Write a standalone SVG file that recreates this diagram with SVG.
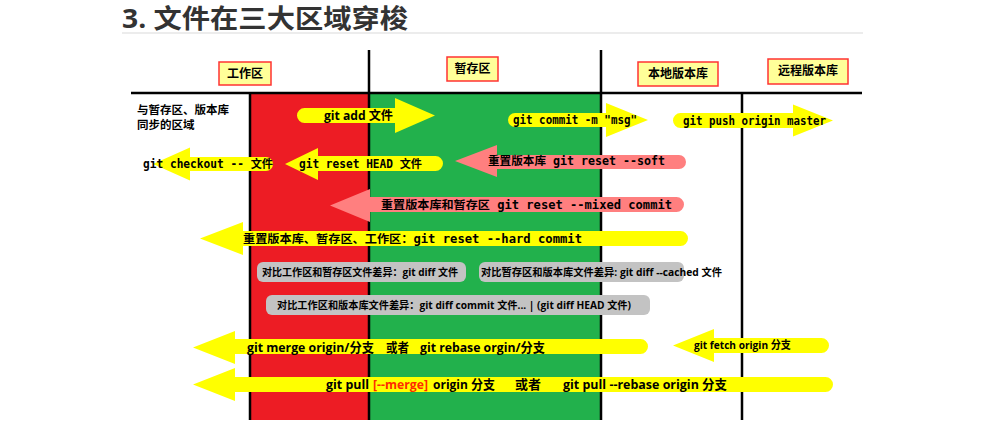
<svg xmlns="http://www.w3.org/2000/svg" width="983" height="435" viewBox="0 0 983 435">
<style>
.title{font-family:"Open Sans","Noto Sans CJK SC",sans-serif;font-weight:bold;font-size:26px;fill:#333}
.lbl{font-family:"Open Sans","Noto Sans CJK SC",sans-serif;font-weight:bold;font-size:12px;fill:#000}
.bs{font-family:"Open Sans","Noto Sans CJK SC",sans-serif;font-weight:bold;fill:#000}
.mono{font-family:"DejaVu Sans Mono","Liberation Mono","Noto Sans CJK SC",monospace;font-size:11.5px;font-weight:bold;fill:#000}
.lbox{fill:#ffff99;stroke:#ff3333;stroke-width:1.5}
.yel{fill:#ffff00}
.pink{fill:#ff7f7f}
.gray{fill:#c3c3c3}
.ln{stroke:#000;stroke-width:2.5;fill:none}
</style>
<text class="title" x="122" y="28" textLength="286" lengthAdjust="spacingAndGlyphs">3. 文件在三大区域穿梭</text>
<rect x="122" y="32" width="741" height="2" fill="#ececec"/>
<g id="zones">
<rect x="250" y="93" width="119" height="327" fill="#ed1c24"/>
<rect x="369" y="93" width="232" height="327" fill="#22b14c"/>
<line class="ln" x1="131" y1="93" x2="862" y2="93"/>
<line class="ln" x1="250" y1="93" x2="250" y2="420"/>
<line class="ln" x1="369" y1="50" x2="369" y2="420"/>
<line class="ln" x1="601" y1="50" x2="601" y2="420"/>
<line class="ln" x1="742" y1="93" x2="742" y2="420"/>
</g>
<g id="workarea"><rect class="lbox" x="219" y="62" width="52" height="23"/><text class="lbl" x="245" y="78" text-anchor="middle">工作区</text></g>
<g id="staging"><rect class="lbox" x="447" y="57" width="51" height="24"/><text class="lbl" x="472.5" y="73" text-anchor="middle">暂存区</text></g>
<g id="localrepo"><rect class="lbox" x="638" y="62" width="80" height="24"/><text class="lbl" x="678" y="78" text-anchor="middle">本地版本库</text></g>
<g id="remoterepo"><rect class="lbox" x="768" y="59" width="80" height="25"/><text class="lbl" x="808" y="75" text-anchor="middle">远程版本库</text></g>
<g id="synclabel"><text class="lbl" style="font-size:11.5px" x="137" y="114">与暂存区、版本库</text><text class="lbl" style="font-size:11.5px" x="137" y="129">同步的区域</text></g>
<g id="connectors">
<path class="yel" d="M304.5 108 L395 108 L395 98 L435 115.5 L395 133 L395 123 L304.5 123 A7.5 7.5 0 0 1 304.5 108 Z"/>
<text class="bs" font-size="12" x="324" y="120" textLength="69" lengthAdjust="spacingAndGlyphs">git add 文件</text>
<path class="yel" d="M515 113 L606 113 L606 103 L648 120 L606 137 L606 127 L515 127 A7 7 0 0 1 515 113 Z"/>
<text class="mono" x="513" y="124" textLength="124" lengthAdjust="spacingAndGlyphs">git commit -m "msg"</text>
<path class="yel" d="M680.5 113 L793 113 L793 104.5 L833 120.5 L793 136.5 L793 128 L680.5 128 A7.5 7.5 0 0 1 680.5 113 Z"/>
<text class="mono" x="683" y="124.5" textLength="143" lengthAdjust="spacingAndGlyphs">git push origin master</text>
<path class="yel" d="M153 164 L190 147.5 L190 157 L266 157 A7 7 0 0 1 266 171 L190 171 L190 180.5 Z"/>
<text class="mono" x="143" y="168" textLength="130" lengthAdjust="spacingAndGlyphs">git checkout -- 文件</text>
<path class="yel" d="M285 164 L318 148 L318 156 L435.5 156 A7.5 7.5 0 0 1 435.5 171 L318 171 L318 180 Z"/>
<text class="mono" x="299" y="168" textLength="123" lengthAdjust="spacingAndGlyphs">git reset HEAD 文件</text>
<path class="pink" d="M455 161 L497 145 L497 155 L679 155 A7 7 0 0 1 679 169 L497 169 L497 177 Z"/>
<text class="mono" x="488" y="165" textLength="177" lengthAdjust="spacingAndGlyphs">重置版本库 git reset --soft</text>
<path class="pink" d="M330 205.5 L370 189 L370 197 L676.5 197 A7.5 7.5 0 0 1 676.5 212 L370 212 L370 222 Z"/>
<text class="mono" x="381" y="209" textLength="291" lengthAdjust="spacingAndGlyphs">重置版本库和暂存区  git reset --mixed commit</text>
<path class="yel" d="M200 238.5 L243 222 L243 231 L680.5 231 A7.5 7.5 0 0 1 680.5 246 L243 246 L243 255 Z"/>
<text class="mono" x="243" y="242.5" textLength="339" lengthAdjust="spacingAndGlyphs">重置版本库、暂存区、工作区：git reset --hard commit</text>
<rect class="gray" x="257" y="262" width="209" height="20" rx="6"/>
<text class="bs" font-size="10.5" x="262" y="276" textLength="196" lengthAdjust="spacingAndGlyphs">对比工作区和暂存区文件差异：git diff 文件</text>
<rect class="gray" x="479" y="262" width="205" height="20" rx="6"/>
<text class="bs" font-size="10.5" x="481" y="276" textLength="241" lengthAdjust="spacingAndGlyphs">对比暂存区和版本库文件差异: git diff --cached 文件</text>
<rect class="gray" x="266" y="295" width="384" height="20" rx="6"/>
<text class="bs" font-size="10.5" x="277" y="309" textLength="354" lengthAdjust="spacingAndGlyphs">对比工作区和版本库文件差异：git diff commit 文件... | (git diff HEAD 文件)</text>
<path class="yel" d="M193 347.5 L235 331 L235 339 L640.5 339 A7.5 7.5 0 0 1 640.5 354 L235 354 L235 364 Z"/>
<text class="bs" font-size="13" x="247" y="352" textLength="127" lengthAdjust="spacingAndGlyphs">git merge origin/分支</text>
<text class="bs" font-size="13" x="386" y="352" textLength="23" lengthAdjust="spacingAndGlyphs">或者</text>
<text class="bs" font-size="13" x="420" y="352" textLength="125" lengthAdjust="spacingAndGlyphs">git rebase orgin/分支</text>
<path class="yel" d="M673 345.5 L714 329 L714 338 L821.5 338 A7.5 7.5 0 0 1 821.5 353 L714 353 L714 362 Z"/>
<text class="bs" font-size="11" x="694" y="349" textLength="97" lengthAdjust="spacingAndGlyphs">git fetch origin 分支</text>
<path class="yel" d="M193 384.5 L235 368 L235 377 L825.5 377 A7.5 7.5 0 0 1 825.5 392 L235 392 L235 401 Z"/>
<text class="bs" font-size="13" x="326" y="389" textLength="43" lengthAdjust="spacingAndGlyphs">git pull</text>
<text class="bs" font-size="13" x="373" y="389" textLength="55" lengthAdjust="spacingAndGlyphs" style="fill:#ff2a00">[--merge]</text>
<text class="bs" font-size="13" x="433" y="389" textLength="62" lengthAdjust="spacingAndGlyphs">origin 分支</text>
<text class="bs" font-size="13" x="515" y="389" textLength="26" lengthAdjust="spacingAndGlyphs">或者</text>
<text class="bs" font-size="13" x="563" y="389" textLength="164" lengthAdjust="spacingAndGlyphs">git pull --rebase origin 分支</text>
</g>
</svg>
